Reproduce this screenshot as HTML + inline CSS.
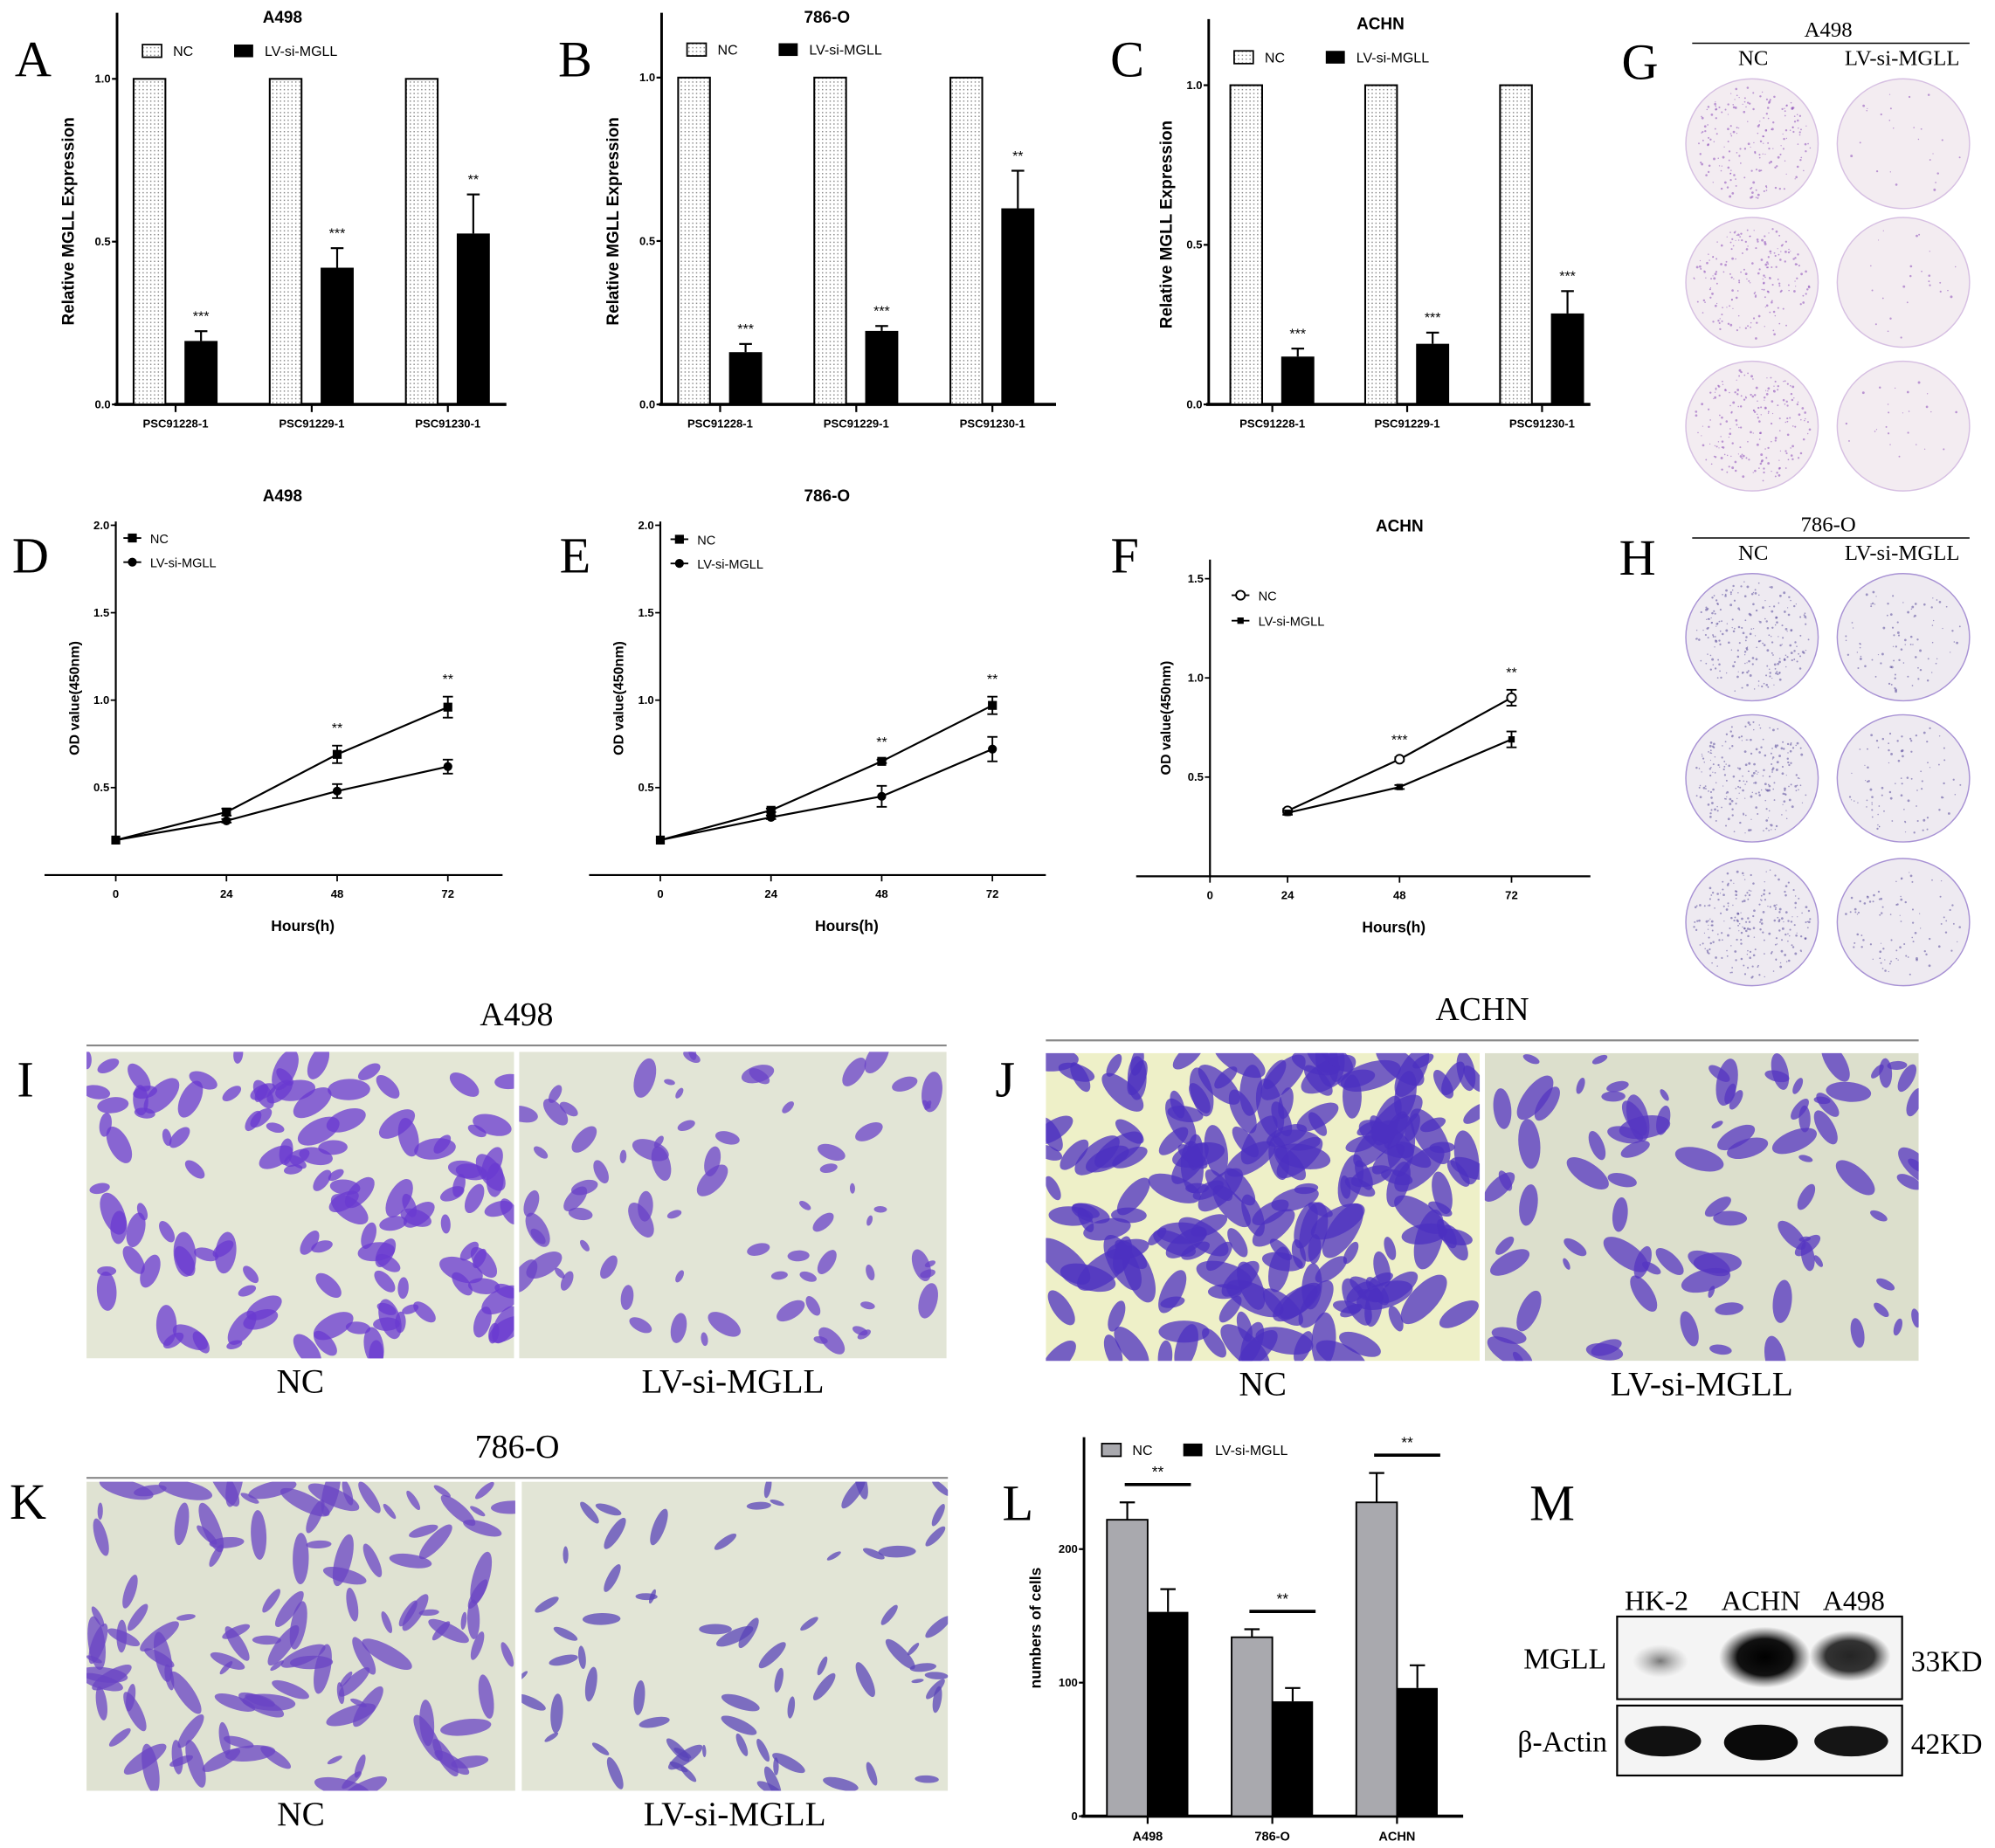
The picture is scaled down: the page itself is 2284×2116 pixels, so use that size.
<!DOCTYPE html>
<html><head><meta charset="utf-8"><style>
html,body{margin:0;padding:0;background:#fff}
svg{display:block}
text{font-family:"Liberation Sans",sans-serif}
.serif{font-family:"Liberation Serif",serif}
</style></head><body>
<svg id="fig" width="2284" height="2116" viewBox="0 0 1568 1453" preserveAspectRatio="none" xmlns="http://www.w3.org/2000/svg">
<defs>
<pattern id="dots" width="3" height="3" patternUnits="userSpaceOnUse"><rect width="3" height="3" fill="#fff"/><rect x="1" y="1" width="1" height="1" fill="#888"/></pattern>
<radialGradient id="bandG"><stop offset="0" stop-color="#000"/><stop offset="0.6" stop-color="#111"/><stop offset="1" stop-color="#444" stop-opacity="0"/></radialGradient>
<radialGradient id="bandF"><stop offset="0" stop-color="#777"/><stop offset="1" stop-color="#aaa" stop-opacity="0"/></radialGradient>
</defs>
</svg>
<script>
// ---------- data ----------
const barCats=['PSC91228-1','PSC91229-1','PSC91230-1'];
const aNC=[1,1,1], aLV=[0.195,0.42,0.525], aLVerr=[0.03,0.06,0.12], aStars=['***','***','**'];
const bNC=[1,1,1], bLV=[0.16,0.225,0.6], bLVerr=[0.025,0.015,0.115], bStars=['***','***','**'];
const cNC=[1,1,1], cLV=[0.15,0.19,0.285], cLVerr=[0.025,0.035,0.07], cStars=['***','***','***'];
const barTicks=['0.0','0.5','1.0'];
const hours=[0,24,48,72];
const dNC=[0.2,0.36,0.69,0.96], dNCerr=[0,0.02,0.05,0.06], dLV=[0.2,0.31,0.48,0.62], dLVerr=[0,0.01,0.04,0.04], dStars=['','','**','**'];
const eNC=[0.2,0.37,0.65,0.97], eNCerr=[0,0.01,0.01,0.05], eLV=[0.2,0.33,0.45,0.72], eLVerr=[0,0.01,0.06,0.07], eStars=['','','**','**'];
const fHours=[24,48,72];
const fNC=[0.33,0.59,0.9], fNCerr=[0.01,0.01,0.04], fLV=[0.32,0.45,0.69], fLVerr=[0.01,0.01,0.04], fStars=['','***','**'];
const odTicks=['0.5','1.0','1.5','2.0'];
const fTicks=['0.5','1.0','1.5'];
const lCats=['A498','786-O','ACHN'];
const lNC=[222,134,235], lNCerr=[13,6,22], lLV=[153,86,96], lLVerr=[17,10,17];
const lTicks=['0','100','200'];

const svg=document.getElementById('fig');
const NS='http://www.w3.org/2000/svg';
function mk(tag,attrs,name,parent){
  const el=document.createElementNS(NS,tag);
  for(const k in attrs) el.setAttribute(k,attrs[k]);
  
  
  (parent||svg).appendChild(el);
  return el;
}
function txt(x,y,s,size,name,o){
  o=o||{};
  const t=mk('text',{x:x,y:y,'font-size':size,'text-anchor':o.anchor||'middle','font-weight':o.bold?'bold':'normal',fill:o.fill||'#000'},name,o.parent);
  if(o.serif) t.setAttribute('class','serif');
  if(o.rot) t.setAttribute('transform','rotate(-90 '+x+' '+y+')');
  t.textContent=s; return t;
}
function line(x1,y1,x2,y2,w,name,p){return mk('line',{x1:x1,y1:y1,x2:x2,y2:y2,stroke:'#000','stroke-width':w},name,p);}

// ---------- bar panels A/B/C ----------
function barPanel(c){
  const g=mk('g',{},c.id+'-panel');
  const y=v=>c.y0-v*(c.y0-c.y1);
  txt(c.letterX,60,c.letter,40,c.id+'-letter',{serif:true,parent:g});
  txt(c.titleX,c.titleY,c.title,13,c.id+'-title',{bold:true,parent:g});
  mk('rect',{x:c.legX,y:c.legY-9,width:15,height:10,fill:'url(#dots)',stroke:'#000','stroke-width':1.2},'legend-nc-swatch',g);
  txt(c.legX+24,c.legY,'NC',11,'legend-nc-label',{anchor:'start',parent:g});
  mk('rect',{x:c.legX+72,y:c.legY-9,width:15,height:10,fill:'#000'},'legend-lv-swatch',g);
  txt(c.legX+96,c.legY,'LV-si-MGLL',11,'legend-lv-label',{anchor:'start',parent:g});
  line(c.ax,c.top,c.ax,c.y0+1,2,'y-axis',g);
  line(c.ax-2,c.y0,c.xEnd,c.y0,2.5,'x-axis',g);
  barTicks.forEach(t=>{const v=parseFloat(t);line(c.ax-4,y(v),c.ax,y(v),1.5,'y-tick',g);txt(c.ax-5,y(v)+3,t,9,'y-tick-label',{anchor:'end',bold:true,parent:g});});
  txt(c.ylabX,(c.top+c.y0)/2+10,'Relative MGLL Expression',13,'y-axis-title',{bold:true,rot:true,parent:g});
  barCats.forEach((cat,i)=>{
    const cx=c.c0+i*c.sp;
    mk('rect',{x:cx-33,y:y(c.nc[i]),width:25,height:c.y0-y(c.nc[i]),fill:'url(#dots)',stroke:'#000','stroke-width':1.4},'bar-nc-'+cat,g);
    const top=y(c.lv[i]), et=y(c.lv[i]+c.err[i]);
    mk('rect',{x:cx+7,y:top,width:26,height:c.y0-top,fill:'#000'},'bar-lv-'+cat,g);
    line(cx+20,top,cx+20,et,1.5,'error-bar',g);line(cx+15,et,cx+25,et,1.5,'error-cap',g);
    txt(cx+20,et-8,c.stars[i],11,'significance-stars',{parent:g});
    line(cx,c.y0,cx,c.y0+6,1.5,'x-tick',g);
    txt(cx,c.y0+18,cat,9,'x-tick-label',{bold:true,parent:g});
  });
}
barPanel({id:'a',letter:'A',letterX:26,title:'A498',titleX:222,titleY:18,legX:112,legY:44,ax:92,top:10,y0:318,y1:62,xEnd:398,ylabX:58,c0:138,sp:107,nc:aNC,lv:aLV,err:aLVerr,stars:aStars});
barPanel({id:'b',letter:'B',letterX:452,title:'786-O',titleX:650,titleY:18,legX:540,legY:43,ax:520,top:10,y0:318,y1:61,xEnd:830,ylabX:486,c0:566,sp:107,nc:bNC,lv:bLV,err:bLVerr,stars:bStars});
barPanel({id:'c',letter:'C',letterX:886,title:'ACHN',titleX:1085,titleY:23,legX:970,legY:49,ax:950,top:15,y0:318,y1:67,xEnd:1250,ylabX:921,c0:1000,sp:106,nc:cNC,lv:cLV,err:cLVerr,stars:cStars});

// ---------- line panels D/E/F ----------
function linePanel(c){
  const g=mk('g',{},c.id+'-panel');
  const x=h=>c.x24+(h-24)*c.dx/24;
  const y=v=>c.y0-v*c.k;
  txt(c.letterX,450,c.letter,40,c.id+'-letter',{serif:true,parent:g});
  txt(c.titleX,c.titleY,c.title,13,c.id+'-title',{bold:true,parent:g});
  line(c.xStart,c.y0,c.xEnd,c.y0,1.5,'x-axis',g);
  line(c.ax,c.top,c.ax,c.yAxEnd,1.5,'y-axis',g);
  c.ticks.forEach(t=>{const v=parseFloat(t);line(c.ax-4,y(v),c.ax,y(v),1.2,'y-tick',g);txt(c.ax-5,y(v)+3,t,9,'y-tick-label',{anchor:'end',bold:true,parent:g});});
  line(c.ax,c.y0,c.ax,c.y0+5,1.2,'x-tick',g);txt(c.ax,c.y0+18,'0',9,'x-tick-label',{bold:true,parent:g});
  [24,48,72].forEach(h=>{line(x(h),c.y0,x(h),c.y0+5,1.2,'x-tick',g);txt(x(h),c.y0+18,String(h),9,'x-tick-label',{bold:true,parent:g});});
  txt((c.ax+c.xEnd)/2-5,c.y0+44,'Hours(h)',12,'x-axis-title',{bold:true,parent:g});
  txt(c.ylabX,(c.top+c.y0)/2,'OD value(450nm)',11,'y-axis-title',{bold:true,rot:true,parent:g});
  function series(vals,errs,marker,name){
    const hs=c.hours;
    const pts=hs.map((h,i)=>x(h)+','+y(vals[i])).join(' ');
    mk('polyline',{points:pts,fill:'none',stroke:'#000','stroke-width':1.5},name+'-line',g);
    hs.forEach((h,i)=>{
      const px=x(h),py=y(vals[i]);
      if(errs[i]>0){const a=y(vals[i]+errs[i]),b=y(vals[i]-errs[i]);line(px,a,px,b,1.3,name+'-error-bar',g);line(px-4,a,px+4,a,1.3,name+'-error-cap',g);line(px-4,b,px+4,b,1.3,name+'-error-cap',g);}
      if(marker==='sq') mk('rect',{x:px-3.5,y:py-3.5,width:7,height:7,fill:'#000'},name+'-point',g);
      else if(marker==='ssq') mk('rect',{x:px-2.5,y:py-2.5,width:5,height:5,fill:'#000'},name+'-point',g);
      else if(marker==='oc') mk('circle',{cx:px,cy:py,r:3.5,fill:'#fff',stroke:'#000','stroke-width':1.3},name+'-point',g);
      else mk('circle',{cx:px,cy:py,r:3.5,fill:'#000'},name+'-point',g);
    });
  }
  series(c.nc,c.ncErr,c.mNC,'series-nc');
  series(c.lv,c.lvErr,c.mLV,'series-lv');
  c.hours.forEach((h,i)=>{if(c.stars[i]) txt(x(h),y(c.nc[i]+c.ncErr[i])-10,c.stars[i],11,'significance-stars',{parent:g});});
  const lx=c.legX;
  line(lx-7,c.legY,lx+7,c.legY,1.3,'legend-nc-line',g);
  if(c.mNC==='sq') mk('rect',{x:lx-3.5,y:c.legY-3.5,width:7,height:7,fill:'#000'},'legend-nc-marker',g);
  else mk('circle',{cx:lx,cy:c.legY,r:3.5,fill:'#fff',stroke:'#000','stroke-width':1.3},'legend-nc-marker',g);
  txt(lx+14,c.legY+4,'NC',10,'legend-nc-label',{anchor:'start',parent:g});
  line(lx-7,c.legY+c.legGap,lx+7,c.legY+c.legGap,1.3,'legend-lv-line',g);
  if(c.mLV==='ssq') mk('rect',{x:lx-2.5,y:c.legY+c.legGap-2.5,width:5,height:5,fill:'#000'},'legend-lv-marker',g);
  else mk('circle',{cx:lx,cy:c.legY+c.legGap,r:3.5,fill:'#000'},'legend-lv-marker',g);
  txt(lx+14,c.legY+c.legGap+4,'LV-si-MGLL',10,'legend-lv-label',{anchor:'start',parent:g});
}
linePanel({id:'d',letter:'D',letterX:24,title:'A498',titleX:222,titleY:394,xStart:35,xEnd:395,ax:91,top:410,yAxEnd:660,y0:688,k:137.5,x24:178,dx:87,ticks:odTicks,ylabX:62,hours:hours,nc:dNC,ncErr:dNCerr,lv:dLV,lvErr:dLVerr,stars:dStars,mNC:'sq',mLV:'fc',legX:104,legY:423,legGap:19});
linePanel({id:'e',letter:'E',letterX:452,title:'786-O',titleX:650,titleY:394,xStart:463,xEnd:822,ax:519,top:410,yAxEnd:660,y0:688,k:137.5,x24:606,dx:87,ticks:odTicks,ylabX:490,hours:hours,nc:eNC,ncErr:eNCerr,lv:eLV,lvErr:eLVerr,stars:eStars,mNC:'sq',mLV:'fc',legX:534,legY:424,legGap:19});
linePanel({id:'f',letter:'F',letterX:884,title:'ACHN',titleX:1100,titleY:418,xStart:893,xEnd:1250,ax:951,top:440,yAxEnd:689,y0:689,k:156,x24:1012,dx:88,ticks:fTicks,ylabX:920,hours:fHours,nc:fNC,ncErr:fNCerr,lv:fLV,lvErr:fLVerr,stars:fStars,mNC:'oc',mLV:'ssq',legX:975,legY:468,legGap:20});

// ---------- pseudo-random texture helper (decoration only) ----------
let seed=7;function rnd(){seed=(seed*16807)%2147483647;return seed/2147483647;}

// ---------- plates G/H ----------
function plates(c){
  const g=mk('g',{},c.id+'-panel');
  txt(c.letterX,c.letterY,c.letter,40,c.id+'-letter',{serif:true,parent:g});
  txt(1437,c.titleY,c.title,17,c.id+'-title',{serif:true,parent:g});
  line(1330,c.titleY+5,1548,c.titleY+5,1,'title-rule',g);
  txt(1378,c.titleY+22,'NC',17,'col-label-nc',{serif:true,parent:g});
  txt(1495,c.titleY+22,'LV-si-MGLL',17,'col-label-lv',{serif:true,parent:g});
  c.rows.forEach((cy,r)=>{
    [[1377,c.ncDots,'nc'],[1496,c.lvDots,'lv']].forEach(([cx,n,k])=>{
      mk('ellipse',{cx:cx,cy:cy,rx:52,ry:c.ry,fill:c.fill,stroke:c.rim,'stroke-width':1},'plate-'+k+'-'+(r+1),g);
      for(let i=0;i<n;i++){const a=rnd()*6.283,rr=Math.sqrt(rnd())*46;
        mk('circle',{cx:cx+Math.cos(a)*rr,cy:cy+Math.sin(a)*rr*c.ry/52,r:0.4+rnd()*0.6,fill:c.dot,opacity:0.55},'colony',g);}
    });
  });
}
plates({id:'g',letter:'G',letterX:1289,letterY:62,title:'A498',titleY:29,rows:[113,222,335],ry:51,fill:'#f3ecf1',rim:'#d6bfe2',dot:'#8a4cb8',ncDots:200,lvDots:25});
plates({id:'h',letter:'H',letterX:1287,letterY:452,title:'786-O',titleY:418,rows:[501,612,725],ry:50,fill:'#eeeaf1',rim:'#a892d4',dot:'#5a4a9a',ncDots:230,lvDots:90});

// ---------- microscopy I/J/K ----------
function micro(x,y,w,h,bg,n,smin,smax,col,elong,name){
  const g=mk('g',{},name);
  const cid='clip-'+name;
  const cp=mk('clipPath',{id:cid},'clip',svg);
  mk('rect',{x:x,y:y,width:w,height:h},'clip-rect',cp);
  g.setAttribute('clip-path','url(#'+cid+')');
  mk('rect',{x:x,y:y,width:w,height:h,fill:bg},'micro-background',g);
  for(let i=0;i<n;i++){
    const px=x+rnd()*w,py=y+rnd()*h,s=smin+rnd()*(smax-smin);
    mk('ellipse',{cx:px,cy:py,rx:s*elong,ry:s,fill:col,opacity:0.75,transform:'rotate('+(rnd()*180)+' '+px+' '+py+')'},'stained-cell',g);
  }
}
function microPanel(c){
  const g=mk('g',{},c.id+'-panel');
  txt(c.letterX,c.letterY,c.letter,40,c.id+'-letter',{serif:true,parent:g});
  txt((c.x1+c.x4)/2,c.titleY,c.title,26,c.id+'-title',{serif:true,parent:g});
  mk('line',{x1:c.x1,y1:c.titleY+16,x2:c.x4,y2:c.titleY+16,stroke:'#888','stroke-width':1.5},'title-rule',g);
  micro(c.x1,c.y1,c.x2-c.x1,c.y2-c.y1,c.bgNC,c.nNC,c.sNC[0],c.sNC[1],c.colNC,c.el,c.id+'-image-nc');
  micro(c.x3,c.y1,c.x4-c.x3,c.y2-c.y1,c.bgLV,c.nLV,c.sLV[0],c.sLV[1],c.colLV,c.el,c.id+'-image-lv');
  txt((c.x1+c.x2)/2,c.y2+27,'NC',27,'image-label-nc',{serif:true});
  txt((c.x3+c.x4)/2,c.y2+27,'LV-si-MGLL',27,'image-label-lv',{serif:true});
}
microPanel({id:'i',letter:'I',letterX:20,letterY:862,title:'A498',titleY:806,x1:68,x2:404,x3:408,x4:744,y1:827,y2:1068,bgNC:'#e4e7d6',bgLV:'#e2e5d6',nNC:130,sNC:[3,9],nLV:75,sLV:[2,8],colNC:'#6a3ad0',colLV:'#6a42c8',el:2});
microPanel({id:'j',letter:'J',letterX:790,letterY:862,title:'ACHN',titleY:802,x1:822,x2:1163,x3:1167,x4:1508,y1:828,y2:1070,bgNC:'#eef0c8',bgLV:'#dcdfcc',nNC:200,sNC:[4,11],nLV:90,sLV:[2,9],colNC:'#4c30c0',colLV:'#5536c2',el:2.3});
microPanel({id:'k',letter:'K',letterX:22,letterY:1194,title:'786-O',titleY:1146,x1:68,x2:405,x3:410,x4:745,y1:1165,y2:1408,bgNC:'#dfe2d2',bgLV:'#e2e5d6',nNC:120,sNC:[2,7],nLV:70,sLV:[1.5,5],colNC:'#6a44c4',colLV:'#5a44b8',el:3.2});

// ---------- panel L ----------
(function(){
  const g=mk('g',{},'l-panel');
  const ax=852,y0=1428,k=(1428-1218)/200;
  const y=v=>y0-v*k;
  txt(800,1195,'L',40,'l-letter',{serif:true,parent:g});
  line(ax,1130,ax,y0,2,'y-axis',g);
  line(ax-2,y0,1150,y0,2.5,'x-axis',g);
  lTicks.forEach(t=>{const v=+t;line(ax-4,y(v),ax,y(v),1.5,'y-tick',g);txt(ax-5,y(v)+3,t,9,'y-tick-label',{anchor:'end',bold:true,parent:g});});
  txt(818,1280,'numbers of cells',12,'y-axis-title',{bold:true,rot:true,parent:g});
  mk('rect',{x:866,y:1135,width:15,height:10,fill:'#a9a9ae',stroke:'#000','stroke-width':1.2},'legend-nc-swatch',g);
  txt(890,1144,'NC',11,'legend-nc-label',{anchor:'start',parent:g});
  mk('rect',{x:930,y:1135,width:15,height:10,fill:'#000'},'legend-lv-swatch',g);
  txt(955,1144,'LV-si-MGLL',11,'legend-lv-label',{anchor:'start',parent:g});
  lCats.forEach((cat,i)=>{
    const cx=902+i*98;
    const tn=y(lNC[i]),tl=y(lLV[i]);
    mk('rect',{x:cx-32,y:tn,width:32,height:y0-tn,fill:'#a9a9ae',stroke:'#000','stroke-width':1.3},'bar-nc-'+cat,g);
    mk('rect',{x:cx,y:tl,width:32,height:y0-tl,fill:'#000'},'bar-lv-'+cat,g);
    const en=y(lNC[i]+lNCerr[i]),el=y(lLV[i]+lLVerr[i]);
    line(cx-16,tn,cx-16,en,1.5,'error-bar',g);line(cx-22,en,cx-10,en,1.5,'error-cap',g);
    line(cx+16,tl,cx+16,el,1.5,'error-bar',g);line(cx+10,el,cx+22,el,1.5,'error-cap',g);
    const sy=Math.min(en,el)-14;
    line(cx-18,sy,cx+34,sy,2.5,'significance-line',g);
    txt(cx+8,sy-6,'**',12,'significance-stars',{parent:g});
    line(cx,y0,cx,y0+6,1.5,'x-tick',g);
    txt(cx,y0+19,cat,10,'x-tick-label',{bold:true,parent:g});
  });
})();

// ---------- panel M (western blot) ----------
(function(){
  const g=mk('g',{},'m-panel');
  txt(1220,1195,'M',40,'m-letter',{serif:true,parent:g});
  [['HK-2',1302],['ACHN',1384],['A498',1457]].forEach(([s,x])=>txt(x,1266,s,22,'lane-label',{serif:true,parent:g}));
  mk('rect',{x:1271,y:1271,width:224,height:65,fill:'#f4f4f4',stroke:'#000','stroke-width':1.5},'blot-mgll',g);
  mk('ellipse',{cx:1305,cy:1306,rx:22,ry:13,fill:'url(#bandF)'},'band-mgll-hk2',g);
  mk('ellipse',{cx:1387,cy:1303,rx:36,ry:24,fill:'url(#bandG)'},'band-mgll-achn',g);
  mk('ellipse',{cx:1454,cy:1302,rx:32,ry:20,fill:'url(#bandG)',opacity:0.85},'band-mgll-a498',g);
  mk('rect',{x:1271,y:1341,width:224,height:55,fill:'#f4f4f4',stroke:'#000','stroke-width':1.5},'blot-actin',g);
  mk('ellipse',{cx:1307,cy:1369,rx:30,ry:12,fill:'#111'},'band-actin-hk2',g);
  mk('ellipse',{cx:1384,cy:1370,rx:29,ry:14,fill:'#0a0a0a'},'band-actin-achn',g);
  mk('ellipse',{cx:1455,cy:1369,rx:29,ry:12,fill:'#151515'},'band-actin-a498',g);
  txt(1230,1312,'MGLL',23,'row-label-mgll',{serif:true,parent:g});
  txt(1530,1314,'33KD',23,'mw-label-33kd',{serif:true,parent:g});
  txt(1228,1377,'β-Actin',23,'row-label-actin',{serif:true,parent:g});
  txt(1530,1379,'42KD',23,'mw-label-42kd',{serif:true,parent:g});
})();
</script>
</body></html>
